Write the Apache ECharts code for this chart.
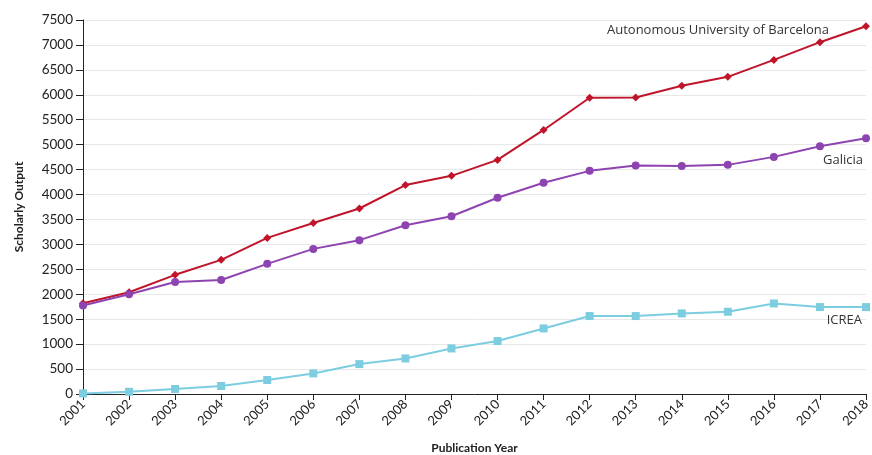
<!DOCTYPE html>
<html>
<head>
<meta charset="utf-8">
<script src="https://cdn.jsdelivr.net/npm/echarts@6/dist/echarts.min.js"></script>
<style>
html,body{margin:0;padding:0;background:#fff;}
#chart{width:872px;height:455px;}
</style>
</head>
<body>
<div id="chart"></div>
<script>
const years = ['2001','2002','2003','2004','2005','2006','2007','2008','2009','2010','2011','2012','2013','2014','2015','2016','2017','2018'];
const barcelona = [1820,2040,2390,2690,3130,3430,3720,4190,4375,4695,5295,5940,5945,6180,6360,6700,7055,7375];
const galicia = [1775,2000,2245,2285,2610,2910,3085,3385,3565,3935,4235,4475,4580,4570,4595,4755,4970,5130];
const icrea = [12,45,100,160,280,413,600,713,914,1062,1315,1563,1563,1616,1649,1816,1743,1743];
const seriesNames = ['Autonomous University of Barcelona','Galicia','ICREA'];
const yTicks = {min:0, max:7500, interval:500};

const FONT = 'Lato, "Open Sans", sans-serif';
const LFONT = '"Open Sans", Lato, sans-serif';
const chart = echarts.init(document.getElementById('chart'));
chart.setOption({
  animation:false,
  textStyle:{fontFamily:FONT},
  grid:{left:83, right:6, top:20, bottom:61, containLabel:false, outerBoundsMode:'none'},
  xAxis:{
    type:'category', data:years, boundaryGap:false,
    name:'Publication Year', nameLocation:'middle', nameGap:48,
    nameTextStyle:{fontSize:12, fontWeight:'bold', color:'#222', fontFamily:FONT},
    axisLine:{lineStyle:{color:'#222', width:1}},
    axisTick:{show:true, alignWithLabel:true, length:6, lineStyle:{color:'#222'}},
    axisLabel:{rotate:45, fontSize:13, color:'#222', margin:8, interval:0, fontFamily:FONT},
    splitLine:{show:false}
  },
  yAxis:{
    type:'value', min:yTicks.min, max:yTicks.max, interval:yTicks.interval,
    name:'Scholarly Output', nameLocation:'middle', nameGap:58, nameRotate:90,
    nameTextStyle:{fontSize:12, fontWeight:'bold', color:'#222', fontFamily:FONT},
    axisLine:{show:true, lineStyle:{color:'#222', width:1}},
    axisTick:{show:true, length:7, lineStyle:{color:'#222'}},
    axisLabel:{fontSize:13.5, color:'#222', margin:10, fontFamily:FONT, formatter:function(v){return String(v);}},
    splitLine:{show:true, lineStyle:{color:'#e8e8e8', width:1}}
  },
  series:[
    {
      name:seriesNames[0], type:'line', data:barcelona,
      symbol:'diamond', symbolSize:8,
      lineStyle:{color:'#c0142b', width:2},
      itemStyle:{color:'#c0142b'},
      endLabel:{show:true, formatter:seriesNames[0], align:'right', verticalAlign:'middle', distance:0, offset:[-37,4], fontSize:13, color:'#333', fontFamily:LFONT}
    },
    {
      name:seriesNames[1], type:'line', data:galicia,
      symbol:'circle', symbolSize:8,
      lineStyle:{color:'#8e44b0', width:2},
      itemStyle:{color:'#8e44b0'},
      endLabel:{show:true, formatter:seriesNames[1], align:'right', verticalAlign:'middle', distance:0, offset:[-3,22], fontSize:13, color:'#333', fontFamily:LFONT}
    },
    {
      name:seriesNames[2], type:'line', data:icrea,
      symbol:'rect', symbolSize:8,
      lineStyle:{color:'#7ccde0', width:2},
      itemStyle:{color:'#7ccde0'},
      endLabel:{show:true, formatter:seriesNames[2], align:'right', verticalAlign:'middle', distance:0, offset:[-4,13], fontSize:13, color:'#333', fontFamily:LFONT}
    }
  ]
});
</script>
</body>
</html>
